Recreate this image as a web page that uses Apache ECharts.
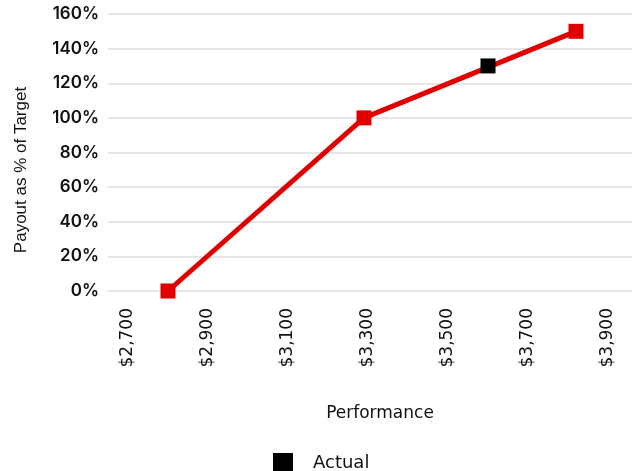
<!DOCTYPE html>
<html>
<head>
<meta charset="utf-8">
<script src="https://cdn.jsdelivr.net/npm/echarts@6/dist/echarts.min.js"></script>
<style>
  html, body { margin: 0; padding: 0; background: #fff; }
  #chart { width: 632px; height: 471px; }
</style>
</head>
<body>
<div id="chart"></div>
<script>
// Payout curve: performance ($) vs payout (% of target)
const performance = [2800, 3290, 3820];
const payoutPct = [0, 100, 150];

// Actual result
const actualPerformance = [3600];
const actualPayout = [130];

// Axis tick labels
const performanceTicks = [2700, 2900, 3100, 3300, 3500, 3700, 3900];

const RED = '#e00000';

function money(v) {
  return '$' + Number(v).toLocaleString('en-US');
}

const chart = echarts.init(document.getElementById('chart'), null, { renderer: 'canvas' });

chart.setOption({
  animation: false,
  backgroundColor: '#ffffff',
  grid: { left: 108, right: 0, top: 14, bottom: 180, containLabel: false },
  xAxis: {
    type: 'value',
    min: 2650,
    max: 3960,
    axisLine: { show: false },
    axisTick: { show: false },
    splitLine: { show: false },
    axisLabel: {
      customValues: performanceTicks,
      rotate: 90,
      margin: 17,
      formatter: money,
      fontFamily: 'DejaVu Sans',
      fontSize: 17,
      color: '#111111'
    }
  },
  yAxis: {
    type: 'value',
    min: 0,
    max: 160,
    interval: 20,
    axisLine: { show: false },
    axisTick: { show: false },
    splitLine: { show: true, lineStyle: { color: '#e6e6e6', width: 2 } },
    axisLabel: {
      formatter: '{value}%',
      margin: 9,
      fontFamily: 'Inter',
      fontWeight: 600,
      fontSize: 17,
      color: '#111111'
    }
  },
  legend: {
    data: ['Actual'],
    left: 273,
    top: 453,
    padding: 0,
    itemWidth: 20,
    itemHeight: 20,
    icon: 'rect',
    textStyle: {
      fontFamily: 'DejaVu Sans',
      fontSize: 18,
      color: '#111111',
      padding: [0, 0, 0, 15]
    }
  },
  graphic: [
    {
      type: 'text',
      x: 21,
      y: 170,
      rotation: Math.PI / 2,
      style: {
        text: 'Payout as % of Target',
        fontFamily: 'Liberation Sans',
        fontSize: 17,
        fill: '#111111',
        align: 'center',
        verticalAlign: 'middle'
      }
    },
    {
      type: 'text',
      x: 380,
      y: 414,
      style: {
        text: 'Performance',
        fontFamily: 'DejaVu Sans',
        fontSize: 17,
        fill: '#111111',
        align: 'center',
        verticalAlign: 'middle'
      }
    }
  ],
  series: [
    {
      name: 'Payout',
      type: 'line',
      data: performance.map((x, i) => [x, payoutPct[i]]),
      symbol: 'rect',
      symbolSize: 15,
      lineStyle: { color: RED, width: 5 },
      itemStyle: { color: RED, opacity: 1, borderWidth: 0 },
      z: 2
    },
    {
      name: 'Actual',
      type: 'scatter',
      data: actualPerformance.map((x, i) => [x, actualPayout[i]]),
      symbol: 'rect',
      symbolSize: 15,
      itemStyle: { color: '#000000', opacity: 1 },
      z: 3
    }
  ]
});
</script>
</body>
</html>
